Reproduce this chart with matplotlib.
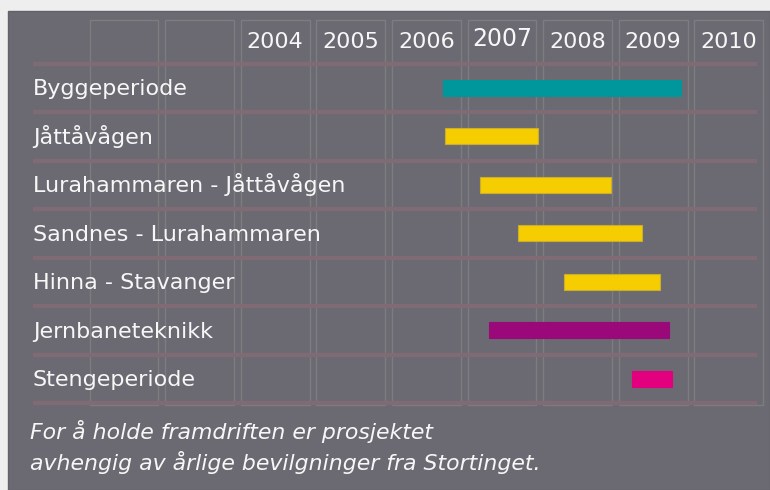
import matplotlib
matplotlib.use("Agg")
import matplotlib.pyplot as plt
from matplotlib.patches import Rectangle

# --- data -------------------------------------------------------------
tasks = ["Byggeperiode", "Jåttåvågen", "Lurahammaren - Jåttåvågen",
         "Sandnes - Lurahammaren", "Hinna - Stavanger", "Jernbaneteknikk",
         "Stengeperiode"]
start = [2006.68, 2006.70, 2007.17, 2007.67, 2008.28, 2007.28, 2009.17]
end = [2009.82, 2007.93, 2008.90, 2009.31, 2009.54, 2009.67, 2009.71]
bar_colors = ["#00979c", "#f6cd00", "#f6cd00", "#f6cd00", "#f6cd00",
              "#9a087a", "#e3007e"]
years = [2002, 2003, 2004, 2005, 2006, 2007, 2008, 2009, 2010]
year_labels = ["", "", "2004", "2005", "2006", "2007", "2008", "2009", "2010"]
note = ["For å holde framdriften er prosjektet",
        "avhengig av årlige bevilgninger fra Stortinget."]

BG = "#eeeeee"
PANEL = "#6b6a72"
ROWLINE = "#806a74"
BOX = "#7c7d7f"
TXT = "#f7f7f7"

W, H = 770, 490
fig = plt.figure(figsize=(W / 100, H / 100), dpi=100, facecolor=BG)
fig.patches.append(Rectangle((8 / W, 0), 1 - 8 / W, 1 - 11 / H,
                             transform=fig.transFigure, facecolor=PANEL,
                             edgecolor="#626169", lw=1, zorder=-5))

ax = fig.add_axes([0, 0, 1, 1])
ax.set_facecolor("none")
ax.set_xlim(2000.815, 2011.0)
ax.set_ylim(8.289, -1.814)
ax.axis("off")

# kolonner per aar
for y, lab in zip(years, year_labels):
    ax.add_patch(Rectangle((y, -1.40), 0.91, 7.94, fill=False,
                           edgecolor=BOX, lw=1, zorder=1))
    if lab:
        big = lab == "2007"
        ax.text(y + 0.455, -0.83 - (0.03 if big else 0), lab, ha="center",
                va="baseline", color=TXT, fontsize=17 if big else 16)

# skillelinjer
ax.hlines([i + 0.5 for i in range(-1, len(tasks))], 2001.25, 2010.83,
          color=ROWLINE, lw=3, zorder=2)

# stolper + etiketter
for i, (s, e, c) in enumerate(zip(start, end, bar_colors)):
    ec = "#c9ad2c" if c == "#f6cd00" else c
    ax.barh(i, e - s, left=s, height=0.33, color=c, edgecolor=ec, lw=0.8,
            zorder=3)
    ax.text(2001.25, i + 0.15, tasks[i], ha="left", va="baseline",
            color=TXT, fontsize=16, zorder=4)

for k, line in enumerate(note):
    fig.text(30 / W, 1 - (439 + 31 * k) / H, line, ha="left", va="baseline",
             color=TXT, fontsize=15.8, style="italic", family="DejaVu Sans")

fig.savefig("out.png", dpi=100, facecolor=BG)
